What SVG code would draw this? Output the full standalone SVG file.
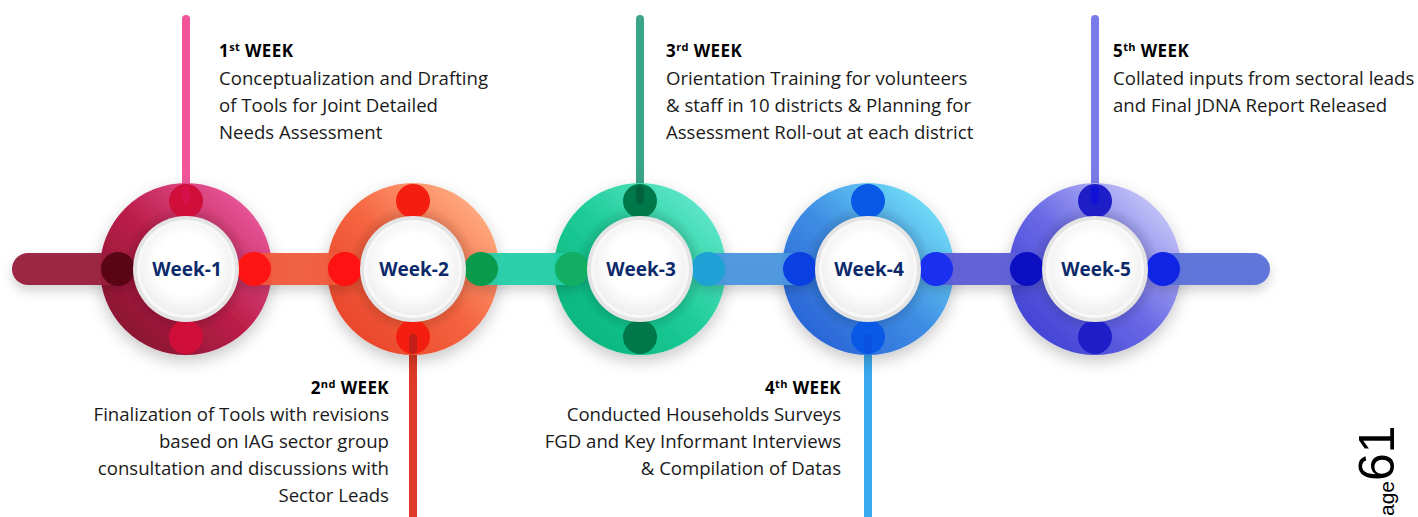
<svg xmlns="http://www.w3.org/2000/svg" width="1418" height="517" viewBox="0 0 1418 517">
<style>
.wk{font-family:"Open Sans","Liberation Sans",sans-serif;font-weight:700;font-size:19px;fill:#0c2a6b;text-anchor:middle}
.hd{font-family:"Open Sans","Liberation Sans",sans-serif;font-weight:700;font-size:17px;letter-spacing:0.4px;fill:#000}
.bd{font-family:"Open Sans","Liberation Sans",sans-serif;font-size:18.6px;fill:#1a1a1a}
.sup{font-size:11px}
.r{text-anchor:end}
.pg{font-family:"Liberation Sans",sans-serif;fill:#000}
</style>
<defs>
<filter id="sh" x="-30%" y="-30%" width="160%" height="170%">
<feDropShadow dx="0" dy="6" stdDeviation="8" flood-color="#000" flood-opacity="0.22"/>
</filter>
<filter id="sh2" x="-10%" y="-50%" width="120%" height="220%">
<feDropShadow dx="0" dy="6" stdDeviation="6" flood-color="#000" flood-opacity="0.18"/>
</filter>
<linearGradient id="g1" x1="0" y1="1" x2="1" y2="0"><stop offset="0" stop-color="#86122f"/><stop offset="0.5" stop-color="#bd1f4b"/><stop offset="1" stop-color="#ea5a9e"/></linearGradient>
<linearGradient id="g2" x1="0" y1="1" x2="1" y2="0"><stop offset="0" stop-color="#e8452a"/><stop offset="0.5" stop-color="#f56440"/><stop offset="1" stop-color="#ffb084"/></linearGradient>
<linearGradient id="g3" x1="0" y1="1" x2="1" y2="0"><stop offset="0" stop-color="#06b47c"/><stop offset="0.5" stop-color="#1ecc98"/><stop offset="1" stop-color="#62e8cc"/></linearGradient>
<linearGradient id="g4" x1="0" y1="1" x2="1" y2="0"><stop offset="0" stop-color="#2862d6"/><stop offset="0.5" stop-color="#3f8ee4"/><stop offset="1" stop-color="#74e2f6"/></linearGradient>
<linearGradient id="g5" x1="0" y1="1" x2="1" y2="0"><stop offset="0" stop-color="#4040d4"/><stop offset="0.5" stop-color="#6a6ae6"/><stop offset="1" stop-color="#cacaf8"/></linearGradient>
<radialGradient id="inner" cx="0.5" cy="0.5" r="0.5"><stop offset="0.55" stop-color="#000" stop-opacity="0.18"/><stop offset="0.75" stop-color="#000" stop-opacity="0"/><stop offset="1" stop-color="#000" stop-opacity="0"/></radialGradient>
<radialGradient id="wd" cx="0.5" cy="0.45" r="0.55"><stop offset="0.6" stop-color="#ffffff"/><stop offset="1" stop-color="#eeeeee"/></radialGradient>
<g id="disc">
<circle r="53" fill="#e4e4e4"/>
<circle r="49" fill="#f8f8f8"/>
<circle r="46" fill="url(#wd)"/>
</g>
</defs>
<rect width="1418" height="517" fill="#ffffff"/>

<g id="connectors">
<line x1="186" y1="19" x2="186" y2="200" stroke="#f2559a" stroke-width="8" stroke-linecap="round"/>
<line x1="413" y1="338" x2="413" y2="530" stroke="#dd3a28" stroke-width="8" stroke-linecap="round"/>
<line x1="640" y1="19" x2="640" y2="200" stroke="#3aa487" stroke-width="8" stroke-linecap="round"/>
<line x1="868" y1="338" x2="868" y2="530" stroke="#3aa8ee" stroke-width="8" stroke-linecap="round"/>
<line x1="1095" y1="19" x2="1095" y2="200" stroke="#7a7ae8" stroke-width="8" stroke-linecap="round"/>
</g>

<g id="rings" filter="url(#sh)">
<circle cx="186" cy="269" r="68" fill="none" stroke="url(#g1)" stroke-width="36"/>
<circle cx="413" cy="269" r="68" fill="none" stroke="url(#g2)" stroke-width="36"/>
<circle cx="640" cy="269" r="68" fill="none" stroke="url(#g3)" stroke-width="36"/>
<circle cx="868" cy="269" r="68" fill="none" stroke="url(#g4)" stroke-width="36"/>
<circle cx="1095" cy="269" r="68" fill="none" stroke="url(#g5)" stroke-width="36"/>
</g>
<g id="ringshade">
<circle cx="186" cy="269" r="86" fill="url(#inner)"/>
<circle cx="413" cy="269" r="86" fill="url(#inner)"/>
<circle cx="640" cy="269" r="86" fill="url(#inner)"/>
<circle cx="868" cy="269" r="86" fill="url(#inner)"/>
<circle cx="1095" cy="269" r="86" fill="url(#inner)"/>
</g>

<g id="bars" filter="url(#sh2)">
<rect x="12" y="253" width="122" height="32" rx="16" fill="#981a3c" fill-opacity="0.95"/>
<rect x="238" y="253" width="123" height="32" rx="16" fill="#f0583a" fill-opacity="0.95"/>
<rect x="465" y="253" width="123" height="32" rx="16" fill="#22cfa6" fill-opacity="0.95"/>
<rect x="692" y="253" width="124" height="32" rx="16" fill="#4a96de" fill-opacity="0.95"/>
<rect x="920" y="253" width="123" height="32" rx="16" fill="#5c5cd6" fill-opacity="0.95"/>
<rect x="1147" y="253" width="123" height="32" rx="16" fill="#5a70d8" fill-opacity="0.95"/>
</g>

<g id="dots">
<circle cx="118" cy="269" r="17" fill="#5a0414"/>
<circle cx="254" cy="269" r="17" fill="#ff1414"/>
<circle cx="345" cy="269" r="17" fill="#ff1212"/>
<circle cx="481" cy="269" r="17" fill="#0a9a4c"/>
<circle cx="572" cy="269" r="17" fill="#12ae62"/>
<circle cx="708" cy="269" r="17" fill="#1ea2d6"/>
<circle cx="800" cy="269" r="17" fill="#0a40e2"/>
<circle cx="936" cy="269" r="17" fill="#1a30f0"/>
<circle cx="1027" cy="269" r="17" fill="#0c10c2"/>
<circle cx="1163" cy="269" r="17" fill="#1024e6"/>
<circle cx="186" cy="201" r="17" fill="#cf0e3a"/>
<circle cx="186" cy="337" r="17" fill="#cf0e3a"/>
<circle cx="413" cy="201" r="17" fill="#f41e10"/>
<circle cx="413" cy="337" r="17" fill="#f41e10"/>
<circle cx="640" cy="201" r="17" fill="#00784a"/>
<circle cx="640" cy="337" r="17" fill="#00784a"/>
<circle cx="868" cy="201" r="17" fill="#0a58e6"/>
<circle cx="868" cy="337" r="17" fill="#0a58e6"/>
<circle cx="1095" cy="201" r="17" fill="#1e1ec8"/>
<circle cx="1095" cy="337" r="17" fill="#1e1ec8"/>
<line x1="186" y1="190" x2="186" y2="200" stroke="#d8104a" stroke-width="8" stroke-linecap="round"/>
<line x1="413" y1="338" x2="413" y2="350" stroke="#c41e18" stroke-width="8" stroke-linecap="round"/>
<line x1="640" y1="190" x2="640" y2="200" stroke="#03603c" stroke-width="8" stroke-linecap="round"/>
<line x1="868" y1="338" x2="868" y2="350" stroke="#0a50e0" stroke-width="8" stroke-linecap="round"/>
<line x1="1095" y1="190" x2="1095" y2="200" stroke="#1010d8" stroke-width="8" stroke-linecap="round"/>
</g>

<g id="week1"><use href="#disc" x="186" y="269"/><text class="wk" x="187" y="276">Week-1</text></g>
<g id="week2"><use href="#disc" x="413" y="269"/><text class="wk" x="414" y="276">Week-2</text></g>
<g id="week3"><use href="#disc" x="640" y="269"/><text class="wk" x="641" y="276">Week-3</text></g>
<g id="week4"><use href="#disc" x="868" y="269"/><text class="wk" x="869" y="276">Week-4</text></g>
<g id="week5"><use href="#disc" x="1095" y="269"/><text class="wk" x="1096" y="276">Week-5</text></g>

<g id="label1">
<text class="hd" x="219" y="57">1<tspan class="sup" dy="-6">st</tspan><tspan dy="6"> WEEK</tspan></text>
<text class="bd" x="219" y="85">Conceptualization and Drafting</text>
<text class="bd" x="219" y="112">of Tools for Joint Detailed</text>
<text class="bd" x="219" y="139">Needs Assessment</text>
</g>
<g id="label2">
<text class="hd r" x="389" y="394">2<tspan class="sup" dy="-6">nd</tspan><tspan dy="6"> WEEK</tspan></text>
<text class="bd r" x="389" y="421">Finalization of Tools with revisions</text>
<text class="bd r" x="389" y="448">based on IAG sector group</text>
<text class="bd r" x="389" y="475">consultation and discussions with</text>
<text class="bd r" x="389" y="502">Sector Leads</text>
</g>
<g id="label3">
<text class="hd" x="666" y="57">3<tspan class="sup" dy="-6">rd</tspan><tspan dy="6"> WEEK</tspan></text>
<text class="bd" x="666" y="85">Orientation Training for volunteers</text>
<text class="bd" x="666" y="112">&amp; staff in 10 districts &amp; Planning for</text>
<text class="bd" x="666" y="139">Assessment Roll-out at each district</text>
</g>
<g id="label4">
<text class="hd r" x="841" y="394">4<tspan class="sup" dy="-6">th</tspan><tspan dy="6"> WEEK</tspan></text>
<text class="bd r" x="841" y="421">Conducted Households Surveys</text>
<text class="bd r" x="841" y="448">FGD and Key Informant Interviews</text>
<text class="bd r" x="841" y="475">&amp; Compilation of Datas</text>
</g>
<g id="label5">
<text class="hd" x="1113" y="57">5<tspan class="sup" dy="-6">th</tspan><tspan dy="6"> WEEK</tspan></text>
<text class="bd" x="1113" y="85">Collated inputs from sectoral leads</text>
<text class="bd" x="1113" y="112">and Final JDNA Report Released</text>
</g>

<text class="pg" transform="translate(1394,517) rotate(-90)" x="1"><tspan font-size="21">age</tspan><tspan font-size="50">61</tspan></text>
</svg>
